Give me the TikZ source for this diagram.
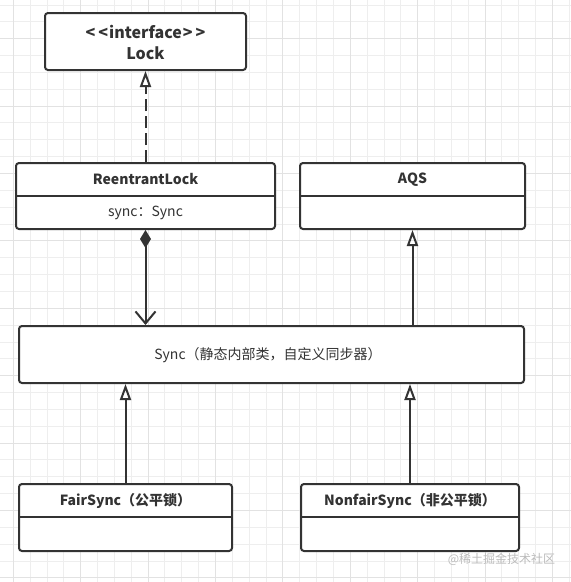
\documentclass[tikz,border=0pt]{standalone}
\usepackage{fontspec}
\setmainfont{Noto Sans CJK SC}
\usetikzlibrary{arrows.meta,calc}
\definecolor{ink}{HTML}{333333}
\definecolor{gridminor}{HTML}{EEEEEE}
\definecolor{gridmajor}{HTML}{E2E2E2}
\definecolor{wmark}{HTML}{BBBBBB}
\tikzset{
  umlbox/.style={draw=ink, line width=2pt, rounded corners=3pt, fill=white, inner sep=0pt},
  titletext/.style={text=ink, font=\bfseries\fontsize{14pt}{16pt}\selectfont, inner sep=0pt, align=center},
  bigtitle/.style={titletext, font=\bfseries\fontsize{16pt}{18pt}\selectfont},
  bodytext/.style={text=ink, font=\fontsize{14pt}{16pt}\selectfont, inner sep=0pt},
  divider/.style={draw=ink, line width=2pt},
  inherit/.style={draw=ink, line width=2pt, -{Triangle[open, width=11pt, length=16pt, line width=2pt]}},
  realize/.style={inherit, dash pattern=on 12pt off 5pt},
  compose/.style={draw=ink, line width=2pt, {Diamond[width=11pt, length=18pt]}-{Straight Barb[width=20pt, length=12pt, line width=2pt]}},
}
\begin{document}
\begin{tikzpicture}[x=1pt, y=-1pt]
  \useasboundingbox (0,0) rectangle (571,582);
  \fill[white] (0,0) rectangle (571,582);
  % background grid
  \foreach \k in {0,...,33} {
    \draw[gridminor, line width=1pt] ({13.3+16.85*\k},0) -- ({13.3+16.85*\k},582);
    \draw[gridminor, line width=1pt] (0,{5+16.85*\k}) -- (571,{5+16.85*\k});
  }
  \foreach \k in {0,...,8} {
    \draw[gridmajor, line width=1pt] ({13.3+67.4*\k},0) -- ({13.3+67.4*\k},582);
    \draw[gridmajor, line width=1pt] (0,{38.7+67.4*\k}) -- (571,{38.7+67.4*\k});
  }

  % Lock
  \node[umlbox, minimum width=201pt, minimum height=57pt] (lock) at (145.5,41.5) {};
  \node[bigtitle] (lockst) at (145.5,32) {<\kern3pt{}<\kern1pt{}interface\kern1pt{}>\kern3pt{}>};
  \node[bigtitle] (lockname) at (145.5,53) {Lock};

  % ReentrantLock
  \node[umlbox, minimum width=259pt, minimum height=66pt] (rl) at (145.5,196) {};
  \node[titletext] (rlname) at (145.5,179) {ReentrantLock};
  \draw[divider] (rl.west |- 0,196) -- (rl.east |- 0,196);
  \node[bodytext] (rlattr) at (145.5,213) {sync：Sync};

  % AQS
  \node[umlbox, minimum width=225pt, minimum height=66pt] (aqs) at (412.5,196) {};
  \node[titletext] (aqsname) at (412.5,179.5) {AQS};
  \draw[divider] (aqs.west |- 0,196) -- (aqs.east |- 0,196);

  % Sync
  \node[umlbox, minimum width=505pt, minimum height=57pt] (sync) at (271.5,354.5) {};
  \node[bodytext] (syncname) at (268,355) {Sync（静态内部类，自定义同步器）};

  % FairSync
  \node[umlbox, minimum width=213pt, minimum height=67pt] (fair) at (125.5,517.5) {};
  \node[titletext] (fairname) at (125.5,501) {FairSync（公平锁）};
  \draw[divider] (fair.west |- 0,517) -- (fair.east |- 0,517);

  % NonfairSync
  \node[umlbox, minimum width=218pt, minimum height=67pt] (nf) at (410,517.5) {};
  \node[titletext] (nfname) at (410,501) {NonfairSync（非公平锁）};
  \draw[divider] (nf.west |- 0,517) -- (nf.east |- 0,517);

  % connectors
  \draw[realize] (rl.north) -- (lock.south);
  \draw[compose] (rl.south) -- (rl.south |- sync.north);
  \draw[inherit] (aqs.south |- sync.north) -- (aqs.south);
  \draw[inherit] (fair.north) -- (fair.north |- sync.south);
  \draw[inherit] (nf.north) -- (nf.north |- sync.south);

  % watermark
  \node[text=wmark, font=\fontsize{12pt}{14pt}\selectfont, inner sep=0pt] (wm) at (501.5,559) {@稀土掘金技术社区};
\end{tikzpicture}
\end{document}
